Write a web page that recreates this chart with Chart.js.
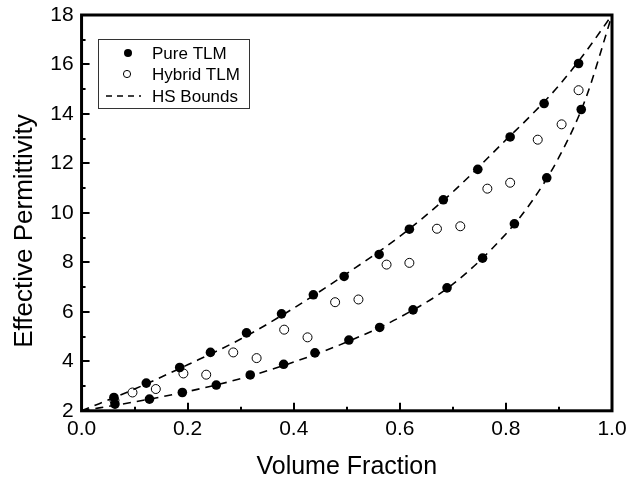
<!DOCTYPE html>
<html>
<head>
<meta charset="utf-8">
<script src="https://cdn.jsdelivr.net/npm/chart.js@4/dist/chart.umd.min.js"></script>
<style>
html,body{margin:0;padding:0;background:#fff;}
#wrap{width:636px;height:480px;}
</style>
</head>
<body>
<div id="wrap"><canvas id="c" width="636" height="480"></canvas></div>
<script>
// ---- data ----
const pureX = [0.061,0.063,0.122,0.128,0.185,0.19,0.243,0.254,0.311,0.318,0.377,0.381,0.437,0.44,0.495,0.504,0.561,0.562,0.618,0.625,0.682,0.689,0.747,0.756,0.808,0.816,0.872,0.877,0.937,0.942];
const pureY = [2.54,2.27,3.12,2.47,3.75,2.74,4.36,3.04,5.15,3.45,5.92,3.88,6.69,4.34,7.43,4.86,8.32,5.37,9.34,6.08,10.53,6.97,11.76,8.17,13.07,9.56,14.42,11.42,16.04,14.18];
const hybridX = [0.062,0.096,0.14,0.192,0.235,0.286,0.33,0.382,0.426,0.478,0.522,0.575,0.618,0.67,0.714,0.765,0.808,0.86,0.905,0.937];
const hybridY = [2.42,2.74,2.88,3.51,3.46,4.36,4.13,5.28,4.97,6.39,6.5,7.91,7.98,9.36,9.46,10.98,11.22,12.96,13.58,14.96];
const boundX = [0,0.1,0.2,0.3,0.4,0.5,0.6,0.7,0.8,0.85,0.9,0.95,1.0];
const upperY = [2,2.88,3.86,4.9,6.15,7.55,9.05,10.85,12.95,14.0,15.15,16.5,18];
const lowerY = [2,2.36,2.78,3.3,3.97,4.78,5.78,7.12,9.15,10.5,12.25,14.6,18];
const labels = ["Pure TLM","Hybrid TLM","HS Bounds"];
const xTicks = [0,0.2,0.4,0.6,0.8,1.0];
const yTicks = [2,4,6,8,10,12,14,16,18];

const pts = (xs,ys)=>xs.map((x,i)=>({x:x,y:ys[i]}));
const FONT = "'Liberation Sans', Arial, sans-serif";

const framePlugin = {
  id:'frame',
  afterDraw(chart){
    const {ctx, chartArea:a, scales:{x,y}} = chart;
    ctx.save();
    ctx.strokeStyle='#000';
    // ticks (inward)
    ctx.lineWidth=2;
    ctx.beginPath();
    for(let i=0; i<=10; i++){
      const v=i/10;
      const px = Math.round(x.getPixelForValue(v));
      const L = (i%2===0)?8:4;
      ctx.moveTo(px,a.bottom); ctx.lineTo(px,a.bottom-L);
    }
    for(let v=2; v<=18; v+=1){
      const py = Math.round(y.getPixelForValue(v));
      const L = (v%2===0)?8:4;
      ctx.moveTo(a.left,py); ctx.lineTo(a.left+L,py);
    }
    ctx.stroke();
    ctx.lineWidth=3;
    ctx.strokeRect(a.left,a.top,a.right-a.left,a.bottom-a.top);
    // legend
    const bx=98, by=39, bw=151, bh=69;
    ctx.lineWidth=1;
    ctx.fillStyle='#fff';
    ctx.fillRect(bx,by,bw,bh);
    ctx.strokeStyle='#333';
    ctx.strokeRect(bx+0.5,by+0.5,bw,bh);
    ctx.strokeStyle='#000';
    ctx.fillStyle='#000';
    ctx.font='17px '+FONT;
    ctx.textBaseline='middle';
    const rows=[53,74,96];
    ctx.beginPath(); ctx.arc(128,rows[0],4,0,Math.PI*2); ctx.fill();
    ctx.beginPath(); ctx.arc(127,rows[1],3.6,0,Math.PI*2); ctx.stroke();
    ctx.lineWidth=1.5;
    ctx.setLineDash([6,5]);
    ctx.beginPath(); ctx.moveTo(106,rows[2]); ctx.lineTo(141,rows[2]); ctx.stroke();
    ctx.setLineDash([]);
    labels.forEach((t,i)=>ctx.fillText(t,152,rows[i]+1));
    ctx.restore();
  }
};

new Chart(document.getElementById('c'),{
  type:'scatter',
  data:{datasets:[
    {label:'upper', data:pts(boundX,upperY), showLine:true, borderColor:'#000', borderWidth:1.6, borderDash:[8,6], pointRadius:0, cubicInterpolationMode:'monotone', fill:false},
    {label:'lower', data:pts(boundX,lowerY), showLine:true, borderColor:'#000', borderWidth:1.6, borderDash:[8,6], pointRadius:0, cubicInterpolationMode:'monotone', fill:false},
    {label:labels[0], data:pts(pureX,pureY), pointRadius:4.8, backgroundColor:'#000', borderColor:'#000', borderWidth:0, showLine:false},
    {label:labels[1], data:pts(hybridX,hybridY), pointRadius:4.5, backgroundColor:'#fff', borderColor:'#000', borderWidth:1, showLine:false}
  ]},
  options:{
    responsive:false, animation:false,
    layout:{padding:{left:7,right:24,top:1,bottom:0}},
    plugins:{legend:{display:false}, tooltip:{enabled:false}},
    scales:{
      x:{type:'linear', min:0, max:1,
        afterBuildTicks(s){ s.ticks = xTicks.map(v=>({value:v})); },
        ticks:{color:'#000', font:{size:21, family:FONT}, padding:6, maxRotation:0, callback:v=>v.toFixed(1)},
        grid:{display:false, drawTicks:false}, border:{display:false},
        title:{display:true, text:'Volume Fraction', color:'#000', font:{size:25, family:FONT, lineHeight:1.0}, padding:{top:7,bottom:0}}
      },
      y:{type:'linear', min:2, max:18,
        afterBuildTicks(s){ s.ticks = yTicks.map(v=>({value:v})); },
        afterFit(s){ s.paddingTop = 15; },
        ticks:{color:'#000', font:{size:21, family:FONT}, padding:8, callback:v=>String(v)},
        grid:{display:false, drawTicks:false}, border:{display:false},
        title:{display:true, text:'Effective Permittivity\u00A0\u00A0\u00A0\u00A0\u00A0', color:'#000', font:{size:26, family:FONT}, padding:{top:2,bottom:2}}
      }
    }
  },
  plugins:[framePlugin]
});
</script>
</body>
</html>
